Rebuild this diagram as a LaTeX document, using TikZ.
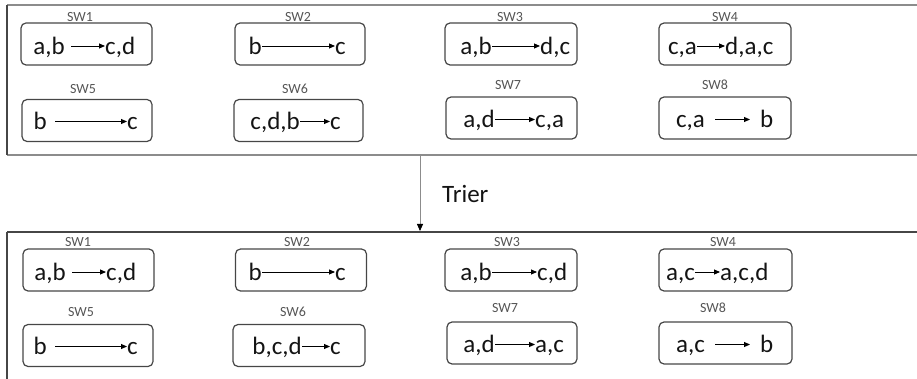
\documentclass[tikz,border=0pt]{standalone}
\usepackage{fontspec}
\setmainfont{Carlito}
\usetikzlibrary{arrows.meta}
\definecolor{boxgray}{RGB}{70,70,70}
\definecolor{panelgray}{RGB}{140,140,140}
\definecolor{labgray}{RGB}{85,85,85}
\definecolor{txtcol}{RGB}{20,20,20}
\begin{document}
\begin{tikzpicture}[x=1pt,y=-1pt,
  swbox/.style={draw=boxgray, line width=1.2pt, rounded corners=5pt, minimum height=42pt, inner sep=0pt},
  swlab/.style={inner sep=0pt, text=labgray, font=\fontsize{14}{16}\selectfont},
  txt/.style={inner sep=0pt, text=txtcol, font=\fontsize{25}{30}\selectfont, text height=20pt, text depth=3.5pt},
  arr/.style={-{Triangle[length=6pt,width=5pt]}, line width=0.9pt, black},
  mainarr/.style={-{Triangle[length=7pt,width=6pt,black]}, line width=0.8pt, draw=panelgray},
  thickgray/.style={draw=panelgray, line width=2.6pt},
  darkline/.style={draw=boxgray, line width=1.4pt}]
\useasboundingbox (0,0) rectangle (917,379);

% panels
\coordinate (p1a) at (7,5);
\coordinate (p1b) at (917,5);
\coordinate (p1c) at (7,155);
\coordinate (p1d) at (917,155);
\coordinate (p2a) at (7,232);
\coordinate (p2b) at (917,232);
\coordinate (p2c) at (7,379);
\draw[thickgray] (p1a) -- (p1b);
\draw[thickgray] (p1c) -- (p1d);
\draw[darkline] (p1a) -- (p1c);
\draw[darkline] (p2a) -- (p2b);
\draw[darkline] (p2a) -- (p2c);

% main arrow
\coordinate (ms) at (420,156);
\coordinate (me) at (420,231);
\draw[mainarr] (ms) -- (me);
\node[txt, anchor=west] (trier) at (442,194.75) {Trier};

% ===== top panel =====
% SW1
\node[swbox, minimum width=131pt] (t1) at (86.5,44) {};
\node[swlab] (t1n) at (80,17) {SW1};
\node[txt, anchor=east] (t1a) at (65,46) {a,b};
\node[txt, anchor=west] (t1b) at (105,46) {c,d};
\draw[arr, shorten <=6pt] (t1a) -- (t1b);
% SW2
\node[swbox, minimum width=130pt] (t2) at (300,44) {};
\node[swlab] (t2n) at (298,17) {SW2};
\node[txt, anchor=east] (t2a) at (262,46) {b};
\node[txt, anchor=west] (t2b) at (335,46) {c};
\draw[arr] (t2a) -- (t2b);
% SW3
\node[swbox, minimum width=132pt] (t3) at (511,44) {};
\node[swlab] (t3n) at (510,17) {SW3};
\node[txt, anchor=east] (t3a) at (492,46) {a,b};
\node[txt, anchor=west] (t3b) at (540,46) {d,c};
\draw[arr] (t3a) -- (t3b);
% SW4
\node[swbox, minimum width=132pt] (t4) at (725,44) {};
\node[swlab] (t4n) at (725,17) {SW4};
\node[txt, anchor=east] (t4a) at (697,46) {c,a};
\node[txt, anchor=west] (t4b) at (725,46) {d,a,c};
\draw[arr] (t4a) -- (t4b);
% SW5
\node[swbox, minimum width=130pt] (t5) at (87,120.5) {};
\node[swlab] (t5n) at (83,89) {SW5};
\node[txt, anchor=east] (t5a) at (47,121.5) {b};
\node[txt, anchor=west] (t5b) at (127,121.5) {c};
\draw[arr, shorten <=8pt] (t5a) -- (t5b);
% SW6
\node[swbox, minimum width=129pt] (t6) at (298.5,120.5) {};
\node[swlab] (t6n) at (295,89) {SW6};
\node[txt, anchor=east] (t6a) at (300,121.5) {c,d,b};
\node[txt, anchor=west] (t6b) at (330,121.5) {c};
\draw[arr] (t6a) -- (t6b);
% SW7
\node[swbox, minimum width=131pt] (t7) at (511.5,118) {};
\node[swlab] (t7n) at (508,85) {SW7};
\node[txt, anchor=east] (t7a) at (495,119.5) {a,d};
\node[txt, anchor=west] (t7b) at (535,119.5) {c,a};
\draw[arr] (t7a) -- (t7b);
% SW8
\node[swbox, minimum width=132pt] (t8) at (725,118) {};
\node[swlab] (t8n) at (715,85) {SW8};
\node[txt, anchor=east] (t8a) at (705,119.5) {c,a};
\node[txt, anchor=west] (t8b) at (760,119.5) {b};
\draw[arr, shorten <=10pt, shorten >=10pt] (t8a) -- (t8b);

% ===== bottom panel =====
% SW1
\node[swbox, minimum width=131pt] (u1) at (88.5,270) {};
\node[swlab] (u1n) at (78,242) {SW1};
\node[txt, anchor=east] (u1a) at (66,272) {a,b};
\node[txt, anchor=west] (u1b) at (106,272) {c,d};
\draw[arr, shorten <=6pt] (u1a) -- (u1b);
% SW2
\node[swbox, minimum width=131pt] (u2) at (301,270) {};
\node[swlab] (u2n) at (297,242) {SW2};
\node[txt, anchor=east] (u2a) at (262,272) {b};
\node[txt, anchor=west] (u2b) at (335,272) {c};
\draw[arr] (u2a) -- (u2b);
% SW3
\node[swbox, minimum width=132pt] (u3) at (511,270) {};
\node[swlab] (u3n) at (507,242) {SW3};
\node[txt, anchor=east] (u3a) at (492,272) {a,b};
\node[txt, anchor=west] (u3b) at (537,272) {c,d};
\draw[arr] (u3a) -- (u3b);
% SW4
\node[swbox, minimum width=133pt] (u4) at (725.5,270) {};
\node[swlab] (u4n) at (723,242) {SW4};
\node[txt, anchor=east] (u4a) at (695,272) {a,c};
\node[txt, anchor=west] (u4b) at (720,272) {a,c,d};
\draw[arr] (u4a) -- (u4b);
% SW5
\node[swbox, minimum width=130pt] (u5) at (88,345.5) {};
\node[swlab] (u5n) at (81,312) {SW5};
\node[txt, anchor=east] (u5a) at (47,346.5) {b};
\node[txt, anchor=west] (u5b) at (127,346.5) {c};
\draw[arr, shorten <=8pt] (u5a) -- (u5b);
% SW6
\node[swbox, minimum width=132pt] (u6) at (299,345.5) {};
\node[swlab] (u6n) at (293,312) {SW6};
\node[txt, anchor=east] (u6a) at (302,346.5) {b,c,d};
\node[txt, anchor=west] (u6b) at (330,346.5) {c};
\draw[arr] (u6a) -- (u6b);
% SW7
\node[swbox, minimum width=130pt] (u7) at (512,343) {};
\node[swlab] (u7n) at (505,308) {SW7};
\node[txt, anchor=east] (u7a) at (495,344.5) {a,d};
\node[txt, anchor=west] (u7b) at (535,344.5) {a,c};
\draw[arr] (u7a) -- (u7b);
% SW8
\node[swbox, minimum width=133pt] (u8) at (725.5,343) {};
\node[swlab] (u8n) at (713,308) {SW8};
\node[txt, anchor=east] (u8a) at (705,344.5) {a,c};
\node[txt, anchor=west] (u8b) at (760,344.5) {b};
\draw[arr, shorten <=10pt, shorten >=10pt] (u8a) -- (u8b);
\end{tikzpicture}
\end{document}
